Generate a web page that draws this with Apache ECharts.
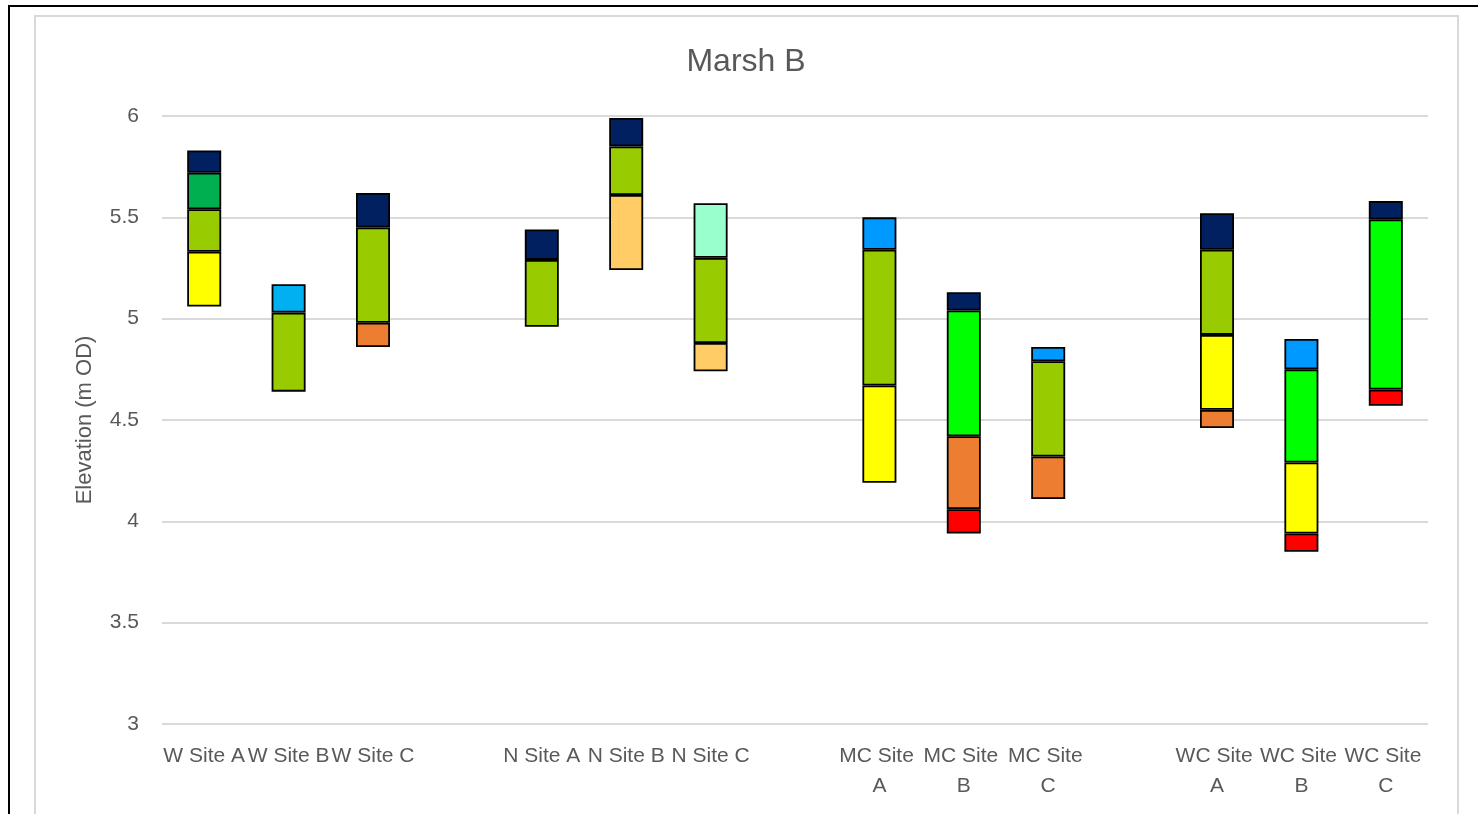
<!DOCTYPE html>
<html>
<head>
<meta charset="utf-8">
<script src="https://cdn.jsdelivr.net/npm/echarts@6/dist/echarts.min.js"></script>
<style>
html,body{margin:0;padding:0;background:#ffffff;}
#chart{width:1478px;height:814px;}
</style>
</head>
<body>
<div id="chart"></div>
<script>
// ---- Data (elevation ranges in m OD, [low, high], null = zone absent) ----
const categories = ['W Site A','W Site B','W Site C','','N Site A','N Site B','N Site C','','MC Site A','MC Site B','MC Site C','','WC Site A','WC Site B','WC Site C'];
const yTicks = { min: 3, max: 6, step: 0.5 };
const _ = null;

const zoneRed         = [_, _, _, _, _, _, _, _, _, [3.94,4.06], _, _, _, [3.85,3.94], [4.57,4.65]];
const zoneOrange      = [_, _, [4.86,4.98], _, _, _, _, _, _, [4.06,4.42], [4.11,4.32], _, [4.46,4.55], _, _];
const zoneLightOrange = [_, _, _, _, _, [5.24,5.61], [4.74,4.88], _, _, _, _, _, _, _, _];
const zoneYellow      = [[5.06,5.33], _, _, _, _, _, _, _, [4.19,4.67], _, _, _, [4.55,4.92], [3.94,4.29], _];
const zoneBrightGreen = [_, _, _, _, _, _, _, _, _, [4.42,5.04], _, _, _, [4.29,4.75], [4.65,5.49]];
const zoneYellowGreen = [[5.33,5.54], [4.64,5.03], [4.98,5.45], _, [4.96,5.29], [5.61,5.85], [4.88,5.30], _, [4.67,5.34], _, [4.32,4.79], _, [4.92,5.34], _, _];
const zoneDarkGreen   = [[5.54,5.72], _, _, _, _, _, _, _, _, _, _, _, _, _, _];
const zoneMint        = [_, _, _, _, _, _, [5.30,5.57], _, _, _, _, _, _, _, _];
const zoneCyan        = [_, [5.03,5.17], _, _, _, _, _, _, _, _, _, _, _, _, _];
const zoneBlue        = [_, _, _, _, _, _, _, _, [5.34,5.50], _, [4.79,4.86], _, _, [4.75,4.90], _];
const zoneNavy        = [[5.72,5.83], _, [5.45,5.62], _, [5.29,5.44], [5.85,5.99], _, _, _, [5.04,5.13], _, _, [5.34,5.52], _, [5.49,5.58]];

// ---- Styling / assembly ----
const zones = [
  { name: 'Red',          data: zoneRed,         color: '#FF0000' },
  { name: 'Orange',       data: zoneOrange,      color: '#ED7D31' },
  { name: 'Light orange', data: zoneLightOrange, color: '#FFCC66' },
  { name: 'Yellow',       data: zoneYellow,      color: '#FFFF00' },
  { name: 'Bright green', data: zoneBrightGreen, color: '#00FF00' },
  { name: 'Yellow green', data: zoneYellowGreen, color: '#99CC00' },
  { name: 'Dark green',   data: zoneDarkGreen,   color: '#00B050' },
  { name: 'Mint',         data: zoneMint,        color: '#99FFCC' },
  { name: 'Cyan',         data: zoneCyan,        color: '#00B0F0' },
  { name: 'Blue',         data: zoneBlue,        color: '#0099FF' },
  { name: 'Navy',         data: zoneNavy,        color: '#002060' }
];

const base = categories.map((c, i) => {
  let lo = null;
  zones.forEach(z => { const r = z.data[i]; if (r && (lo === null || r[0] < lo)) lo = r[0]; });
  return lo;
});

const FONT = 'Liberation Sans';
const GREY = '#595959';

const series = [{
  name: 'base', type: 'bar', stack: 'marsh', barWidth: 34,
  itemStyle: { color: 'transparent', borderWidth: 0 },
  emphasis: { disabled: true }, silent: true,
  data: base
}].concat(zones.map(z => ({
  name: z.name, type: 'bar', stack: 'marsh', barWidth: 34,
  itemStyle: { color: z.color, borderColor: '#000000', borderWidth: 1.8 },
  emphasis: { disabled: true },
  data: z.data.map(r => r ? +(r[1] - r[0]).toFixed(4) : null)
})));

const chart = echarts.init(document.getElementById('chart'), null, { renderer: 'canvas' });
chart.setOption({
  animation: false,
  backgroundColor: '#ffffff',
  textStyle: { fontFamily: FONT },
  graphic: [
    { type: 'rect', z: -10, shape: { x: 9, y: 6, width: 1490, height: 900 },
      style: { fill: 'none', stroke: '#000000', lineWidth: 2 }, silent: true },
    { type: 'rect', z: -10, shape: { x: 35, y: 16, width: 1423, height: 900 },
      style: { fill: 'none', stroke: '#D9D9D9', lineWidth: 2 }, silent: true },
    { type: 'text', x: 746, y: 62,
      style: { text: 'Marsh B', fill: GREY, font: '32px "Liberation Sans"', align: 'center', verticalAlign: 'middle' } }
  ],
  grid: { left: 162, right: 50, top: 116, bottom: 90, containLabel: false },
  xAxis: {
    type: 'category',
    data: categories,
    axisLine: { show: false },
    axisTick: { show: false },
    axisLabel: {
      interval: 0, color: GREY, fontSize: 21, fontFamily: FONT,
      lineHeight: 30, margin: 17, width: 86, overflow: 'break'
    },
    splitLine: { show: false }
  },
  yAxis: {
    type: 'value',
    min: yTicks.min, max: yTicks.max, interval: yTicks.step,
    name: 'Elevation (m OD)',
    nameLocation: 'middle',
    nameGap: 66,
    nameTextStyle: { color: GREY, fontSize: 22, fontFamily: FONT },
    axisLine: { show: false },
    axisTick: { show: false },
    axisLabel: { color: GREY, fontSize: 21, fontFamily: FONT, margin: 23 },
    splitLine: { lineStyle: { color: '#D9D9D9', width: 2 } }
  },
  series: series
});
</script>
</body>
</html>
